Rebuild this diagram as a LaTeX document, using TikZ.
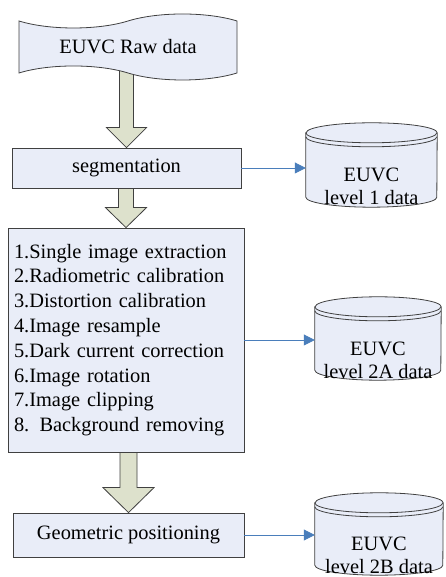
\documentclass[tikz,border=0pt]{standalone}
\usepackage{fontspec}
\setmainfont{Liberation Serif}
\usetikzlibrary{shapes.symbols}
\usetikzlibrary{arrows.meta}
\usetikzlibrary{calc}
\definecolor{boxfill}{RGB}{233,237,248}
\definecolor{arrowfill}{RGB}{221,225,204}
\definecolor{linkblue}{RGB}{74,126,187}
\definecolor{edge}{RGB}{64,64,64}
\tikzset{
  flow chart/.style={
    x=1pt, y=1pt,
    every node/.style={font=\fontsize{20.4}{24.8}\selectfont},
    stepbox/.style={rectangle, draw=edge, fill=boxfill, line width=0.8pt, inner sep=0pt},
    tapebox/.style={tape, draw=edge, fill=boxfill, line width=0.8pt,
        tape bend top=in and out, tape bend bottom=out and in, tape bend height=14pt},
    store/.style={rectangle, inner sep=0pt},
    store line/.style={draw=edge, fill=boxfill, line width=0.8pt},
    store label/.style={align=center, font=\fontsize{20.4}{23}\selectfont},
    fat arrow/.style={draw=edge, fill=arrowfill, line width=0.8pt, line join=miter},
    link/.style={draw=linkblue, line width=0.8pt, -{Triangle[length=11pt,width=11pt]}},
  }
}
\pgfdeclarelayer{background}
\pgfsetlayers{background,main}
% fat arrow: from, to, half shaft, half head, head length
\newcommand{\fatarrow}[5]{
    \draw[fat arrow] let \p1=(#1), \p2=(#2) in
        (\x2-#3pt,\y1) -- (\x2-#3pt,\y2+#5pt) -- (\x2-#4pt,\y2+#5pt) -- (\x2,\y2)
        -- (\x2+#4pt,\y2+#5pt) -- (\x2+#3pt,\y2+#5pt) -- (\x2+#3pt,\y1) -- cycle;
}
% data store: name, position, width, height, label
\newcommand{\datastore}[5]{
    \node[store, minimum width=#3pt, minimum height=#4pt] (#1) at #2 {};
    \pgfmathsetmacro{\rx}{#3/2}
    \def\ry{10}
    \path[store line] ($(#1.north west)+(0,-\ry)$) -- ($(#1.south west)+(0,\ry)$)
        arc[start angle=180, end angle=360, x radius=\rx pt, y radius=\ry pt]
        -- ($(#1.north east)+(0,-\ry)$)
        arc[start angle=0, end angle=180, x radius=\rx pt, y radius=\ry pt] -- cycle;
    \draw[store line, fill=none] ($(#1.north west)+(0,-\ry)$)
        arc[start angle=180, end angle=360, x radius=\rx pt, y radius=\ry pt];
    \draw[store line, fill=none] ($(#1.north west)+(0,-\ry-4)$)
        arc[start angle=180, end angle=360, x radius=\rx pt, y radius=\ry pt];
    \node[store label] (#1-label) at ($(#1.center)+(0,-21.5)$) {#5};
}

\begin{document}
\begin{tikzpicture}[flow chart]
    \useasboundingbox (0,0) rectangle (445,577);

    \node[tapebox, minimum width=218pt, minimum height=66pt] (raw) at (128,530) {EUVC Raw data};
    \node[stepbox, minimum width=229pt, minimum height=40pt] (seg) at (126.5,409) {segmentation};
    \node[stepbox, minimum width=236pt, minimum height=224pt, align=left, text width=224pt] (steps) at (126,237) {
        1.Single image extraction\\
        2.Radiometric calibration\\
        3.Distortion calibration\\
        4.Image resample\\
        5.Dark current correction\\
        6.Image rotation\\
        7.Image clipping\\
        8. Background removing};
    \node[stepbox, minimum width=231pt, minimum height=44pt] (geo) at (128.5,42) {Geometric positioning};

    \datastore{lvl1}{(371.5,412)}{131}{84}{EUVC\\level 1 data}
    \datastore{lvl2a}{(378,238.5)}{126}{83}{EUVC\\level 2A data}
    \datastore{lvl2b}{(379,43)}{128}{82}{EUVC\\level 2B data}

    \draw[link] (seg.east) -- (seg.east -| lvl1.west);
    \draw[link] (steps.east) -- (steps.east -| lvl2a.west);
    \draw[link] (geo.east) -- (geo.east -| lvl2b.west);

    \begin{pgfonlayer}{background}
    \fatarrow{raw.center}{seg.north}{7}{20}{20}
    \fatarrow{seg.south}{steps.north}{7.5}{20.5}{20}
    \fatarrow{steps.south}{geo.north}{8.5}{25.5}{25}
    \end{pgfonlayer}
\end{tikzpicture}
\end{document}
